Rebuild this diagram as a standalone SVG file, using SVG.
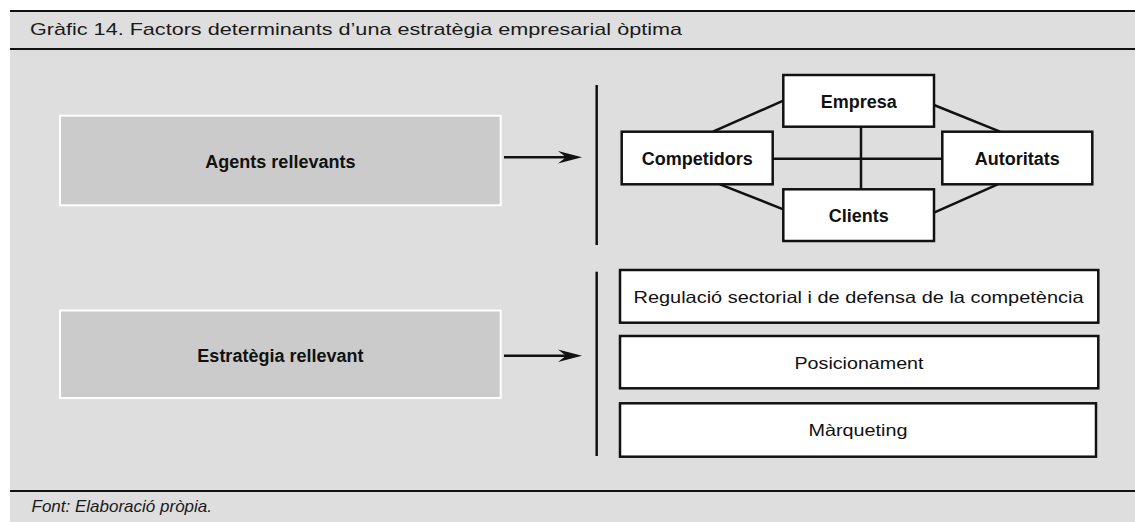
<svg xmlns="http://www.w3.org/2000/svg" width="1135" height="522" viewBox="0 0 1135 522">
  <style>
    .rule { fill: #111111; }
    .panel { fill: #dedede; }
    .agent { fill: #cbcbcb; stroke: #ffffff; stroke-width: 2; }
    .box { fill: #ffffff; stroke: #111111; stroke-width: 2.5; }
    .link { stroke: #111111; stroke-width: 2.5; fill: none; }
    .bar { stroke: #111111; stroke-width: 2.5; }
    .title { font-family: "Liberation Sans", Arial, sans-serif; font-size: 17px; fill: #1a1a1a; }
    .source { font-family: "Liberation Sans", Arial, sans-serif; font-size: 17px; font-style: italic; fill: #1a1a1a; }
    .lbl-b { font-family: "Liberation Sans", Arial, sans-serif; font-size: 18px; font-weight: bold; fill: #111111; text-anchor: middle; }
    .lbl-r { font-family: "Liberation Sans", Arial, sans-serif; font-size: 16.5px; fill: #111111; }
  </style>
  <defs>
    <marker id="head" markerUnits="userSpaceOnUse" markerWidth="30" markerHeight="16" viewBox="-15 -8 30 16" refX="0" refY="0" orient="auto" overflow="visible">
      <path d="M10,0 L-14,-6.3 L-6,0 L-14,6.3 Z" fill="#111111"/>
    </marker>
  </defs>

  <!-- panel background and rules -->
  <rect class="panel" x="10" y="12" width="1125" height="510"/>
  <rect class="rule" x="10" y="10" width="1125" height="2"/>
  <rect class="rule" x="10" y="48" width="1125" height="2"/>
  <rect class="rule" x="10" y="490" width="1125" height="2"/>

  <text class="title" x="30" y="35" textLength="652" lengthAdjust="spacingAndGlyphs">Gràfic 14. Factors determinants d’una estratègia empresarial òptima</text>
  <text class="source" x="31.5" y="511.5">Font: Elaboració pròpia.</text>

  <!-- connectors -->
  <g id="connectors">
    <line class="link" x1="504" y1="157.3" x2="572" y2="157.3" marker-end="url(#head)"/>
    <line class="link" x1="504" y1="355.7" x2="572" y2="355.7" marker-end="url(#head)"/>
    <line class="bar" x1="596.7" y1="85" x2="596.7" y2="245"/>
    <line class="bar" x1="596.7" y1="271.7" x2="596.7" y2="456"/>
    <line class="link" x1="861" y1="126.7" x2="861" y2="189.3"/>
    <line class="link" x1="772.7" y1="158.7" x2="942.3" y2="158.7"/>
    <line class="link" x1="713" y1="131.7" x2="783.3" y2="100.7"/>
    <line class="link" x1="720" y1="184.3" x2="783.3" y2="209.3"/>
    <line class="link" x1="934" y1="105" x2="1000" y2="131.7"/>
    <line class="link" x1="997.7" y1="184.3" x2="934" y2="212.7"/>
  </g>

  <g id="agents">
    <rect class="agent" x="60" y="115.7" width="440.7" height="89.6"/>
    <text class="lbl-b" x="280.4" y="168">Agents rellevants</text>
  </g>
  <g id="strategy">
    <rect class="agent" x="60" y="310.5" width="440.7" height="87.5"/>
    <text class="lbl-b" x="280.4" y="361.5">Estratègia rellevant</text>
  </g>

  <g id="empresa">
    <rect class="box" x="783.3" y="75" width="150.7" height="51.7"/>
    <text class="lbl-b" x="858.7" y="108">Empresa</text>
  </g>
  <g id="competidors">
    <rect class="box" x="621.7" y="131.7" width="151" height="52.6"/>
    <text class="lbl-b" x="697.2" y="165">Competidors</text>
  </g>
  <g id="autoritats">
    <rect class="box" x="942.3" y="131.7" width="150" height="52.6"/>
    <text class="lbl-b" x="1017.3" y="165">Autoritats</text>
  </g>
  <g id="clients">
    <rect class="box" x="783.3" y="189.3" width="150.7" height="51.7"/>
    <text class="lbl-b" x="858.7" y="221.7">Clients</text>
  </g>

  <g id="regulacio">
    <rect class="box" x="620" y="270" width="478.3" height="52.7"/>
    <text class="lbl-r" x="633.5" y="303.3" textLength="450" lengthAdjust="spacingAndGlyphs">Regulació sectorial i de defensa de la competència</text>
  </g>
  <g id="posicionament">
    <rect class="box" x="620" y="336" width="478.3" height="52.3"/>
    <text class="lbl-r" x="794.5" y="368.5" textLength="129" lengthAdjust="spacingAndGlyphs">Posicionament</text>
  </g>
  <g id="marqueting">
    <rect class="box" x="620" y="403.3" width="476" height="53.4"/>
    <text class="lbl-r" x="808.5" y="436" textLength="99" lengthAdjust="spacingAndGlyphs">Màrqueting</text>
  </g>
</svg>
